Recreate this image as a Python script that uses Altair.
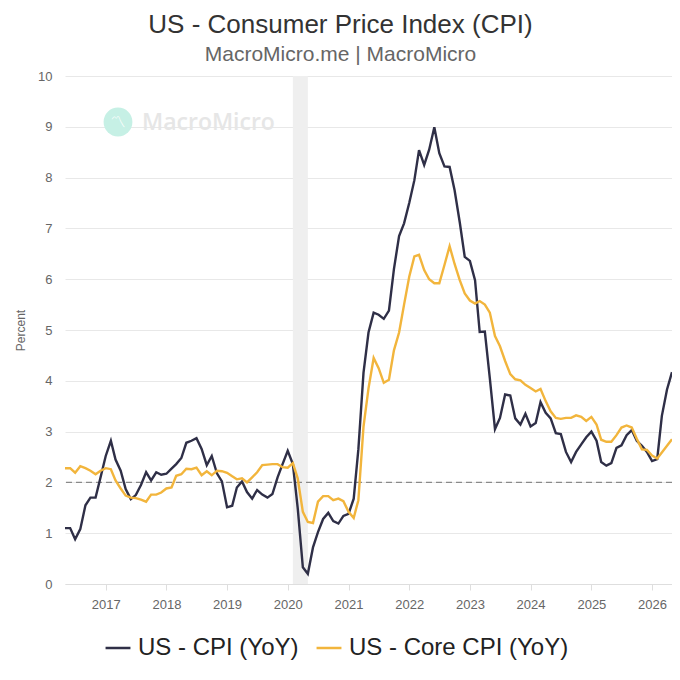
import altair as alt
import pandas as pd

# ---- data (monthly, May 2016 .. May 2026) ----
first_month = "2016-05-01"
cpi = [
    1.10, 1.10, 0.88, 1.08, 1.55, 1.70, 1.70, 2.10,
    2.52, 2.82, 2.45, 2.23, 1.87, 1.67, 1.75, 1.95, 2.20, 2.04, 2.20, 2.15,
    2.17, 2.27, 2.36, 2.48, 2.78, 2.82, 2.87, 2.66, 2.34, 2.52, 2.18, 2.02,
    1.51, 1.54, 1.90, 2.02, 1.81, 1.68, 1.85, 1.76, 1.70, 1.77, 2.10, 2.36,
    2.62, 2.36, 1.50, 0.33, 0.20, 0.72, 1.02, 1.28, 1.40, 1.24, 1.19, 1.34,
    1.38, 1.68, 2.65, 4.16, 4.95, 5.34, 5.30, 5.22, 5.38, 6.20, 6.85, 7.10,
    7.50, 7.95, 8.54, 8.25, 8.55, 8.99, 8.48, 8.22, 8.21, 7.75, 7.12, 6.44,
    6.36, 5.98, 4.96, 4.97, 4.05, 3.05, 3.27, 3.73, 3.71, 3.26, 3.14, 3.35,
    3.10, 3.17, 3.58, 3.37, 3.26, 2.97, 2.95, 2.60, 2.40, 2.60, 2.75, 2.89,
    3.00, 2.82, 2.40, 2.33, 2.38, 2.68, 2.73, 2.93, 3.03, 2.82, 2.72, 2.60,
    2.42, 2.46, 3.31, 3.83, 4.17,
]
core = [
    2.28, 2.28, 2.19, 2.32, 2.28, 2.23, 2.16, 2.23,
    2.28, 2.26, 2.04, 1.88, 1.74, 1.70, 1.69, 1.66, 1.62, 1.76, 1.76, 1.80,
    1.88, 1.90, 2.13, 2.16, 2.27, 2.26, 2.29, 2.14, 2.22, 2.14, 2.23, 2.22,
    2.19, 2.12, 2.06, 2.08, 2.00, 2.10, 2.20, 2.34, 2.35, 2.36, 2.36, 2.30,
    2.29, 2.38, 2.08, 1.42, 1.22, 1.20, 1.62, 1.73, 1.73, 1.65, 1.68, 1.63,
    1.42, 1.30, 1.65, 3.10, 3.85, 4.45, 4.25, 3.96, 4.02, 4.60, 4.95, 5.50,
    6.05, 6.45, 6.48, 6.18, 6.00, 5.92, 5.92, 6.28, 6.65, 6.30, 5.98, 5.72,
    5.58, 5.52, 5.57, 5.50, 5.34, 4.88, 4.68, 4.39, 4.13, 4.03, 4.01, 3.92,
    3.86, 3.79, 3.84, 3.60, 3.40, 3.27, 3.25, 3.27, 3.27, 3.32, 3.29, 3.21,
    3.29, 3.14, 2.84, 2.80, 2.80, 2.93, 3.08, 3.12, 3.08, 2.86, 2.65, 2.64,
    2.53, 2.47, 2.59, 2.72, 2.85,
]
series_names = ["US - CPI (YoY)", "US - Core CPI (YoY)"]
series_colors = ["#2f2f47", "#f2b53c"]
year_ticks = [2017, 2018, 2019, 2020, 2021, 2022, 2023, 2024, 2025, 2026]
y_ticks = [0, 1, 2, 3, 4, 5, 6, 7, 8, 9, 10]
target_rate = [2]
recession_start = ["2020-02-01T00:00:00"]
recession_end = ["2020-05-01T00:00:00"]
x_domain = ["2016-05-01T00:00:00", "2026-05-01T00:00:00"]

n = len(cpi)
dates = list(pd.date_range(first_month, periods=n, freq="MS").strftime("%Y-%m-%dT00:00:00"))
df = pd.DataFrame({
    "date": dates * 2,
    "value": cpi + core,
    "series": [series_names[0]] * n + [series_names[1]] * n,
})
band_df = pd.DataFrame({"start": recession_start, "end": recession_end})
rule_df = pd.DataFrame({"y": target_rate})

x_scale = alt.Scale(domain=x_domain, nice=False)
y_scale = alt.Scale(domain=[0, 10], nice=False)
color_scale = alt.Scale(domain=series_names, range=series_colors)

x_axis = alt.Axis(
    title=None, format="%Y",
    values=[alt.DateTime(year=y, month=1, date=1) for y in year_ticks],
    grid=False, domain=True, domainColor="#dedede", ticks=True, tickColor="#dedede",
    tickSize=6, labelFontSize=13, labelColor="#666666", labelPadding=8,
)
y_axis = alt.Axis(
    title="Percent", values=y_ticks, grid=True, gridColor="#e8e8e8", domain=False,
    ticks=False, labelFontSize=13, labelColor="#666666", labelPadding=13,
    titleFontSize=12, titleFontWeight="normal", titleColor="#666666", titlePadding=10,
)

band = alt.Chart(band_df).mark_rect(color="#efefef").encode(
    x=alt.X("start:T", scale=x_scale, axis=x_axis),
    x2="end:T",
)

logo = alt.Chart(alt.Data(values=[{"t": "MacroMicro"}])).mark_circle(
    color="#c6f0e5", opacity=1, size=830
).encode(x=alt.value(53), y=alt.value(46))
logo_icon = alt.Chart(alt.Data(values=[{"t": "〽"}])).mark_text(
    align="center", baseline="middle", fontSize=15, color="#ffffff", font="Noto Sans CJK SC"
).encode(x=alt.value(53), y=alt.value(46), text="t:N")
logo_text = alt.Chart(alt.Data(values=[{"t": "MacroMicro"}])).mark_text(
    align="left", baseline="middle", fontSize=23, fontWeight=600,
    font="Open Sans", color="#e6e6e6"
).encode(x=alt.value(77), y=alt.value(47), text="t:N")

rule = alt.Chart(rule_df).mark_rule(
    color="#8a8a8a", strokeDash=[6, 4], strokeWidth=1.2
).encode(y=alt.Y("y:Q", scale=y_scale, axis=y_axis))

base = alt.Chart(df).encode(
    x=alt.X("date:T", scale=x_scale, axis=x_axis),
    y=alt.Y("value:Q", scale=y_scale, axis=y_axis),
    color=alt.Color(
        "series:N", scale=color_scale,
        legend=alt.Legend(
            title=None, orient="none", direction="horizontal", legendX=39, legendY=558,
            symbolType="stroke", symbolSize=620, symbolStrokeWidth=2.5,
            labelFontSize=24, labelColor="#222222", labelOffset=6, columnPadding=12,
            labelLimit=400,
        ),
    ),
)
line_cpi = base.transform_filter(alt.datum.series == series_names[0]).mark_line(strokeWidth=2.4)
line_core = base.transform_filter(alt.datum.series == series_names[1]).mark_line(strokeWidth=2.4)

chart = alt.layer(band, logo, logo_icon, logo_text, rule, line_cpi, line_core).properties(
    width=607, height=508,
    autosize=alt.AutoSizeParams(type="none"),
    padding={"left": 57, "top": 68, "right": 0, "bottom": 88},
    title=alt.TitleParams(
        text="US - Consumer Price Index (CPI)",
        subtitle="MacroMicro.me | MacroMicro",
        fontSize=26, fontWeight="normal", color="#333333",
        subtitleFontSize=21, subtitleColor="#666666", subtitlePadding=6,
        anchor="middle", dx=-28, offset=5,
    ),
).configure(font="Liberation Sans").configure_view(stroke=None)

chart.save("out.html", embed_options={"renderer": "svg", "actions": False})
